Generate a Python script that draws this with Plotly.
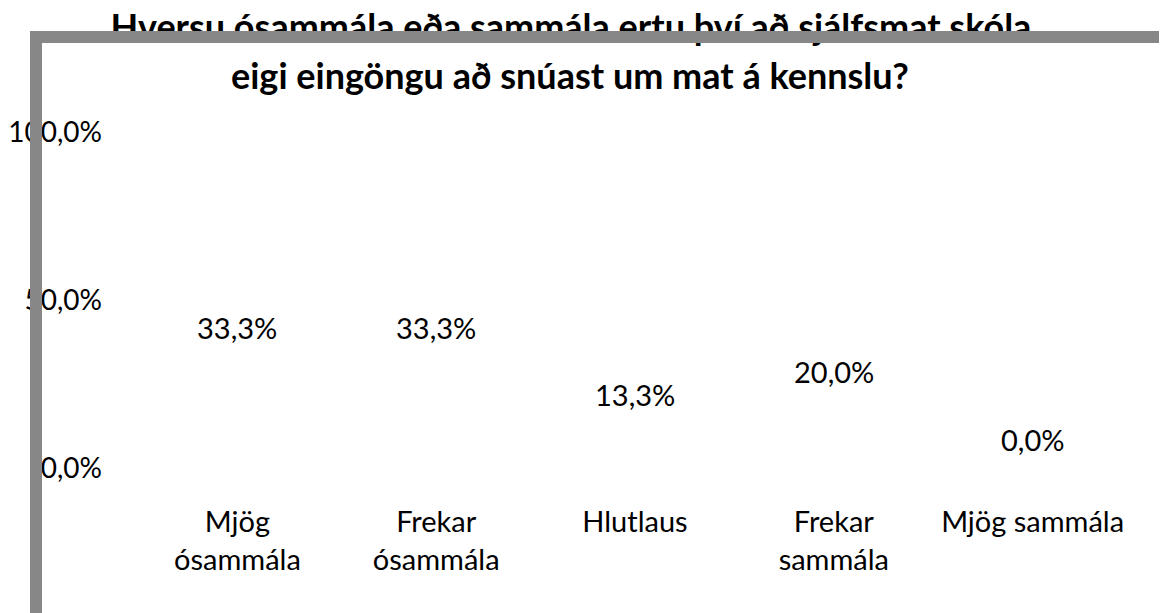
import plotly.graph_objects as go

# ---- data ----
categories = ["Mjög<br>ósammála", "Frekar<br>ósammála", "Hlutlaus", "Frekar<br>sammála", "Mjög sammála"]
values = [0.333, 0.333, 0.133, 0.200, 0.0]
y_tick_values = [0.0, 0.5, 1.0]
title_line1 = "Hversu ósammála eða sammála ertu því að sjálfsmat skóla"
title_line2 = "eigi eingöngu að snúast um mat á kennslu?"

# ---- layout constants (figure coordinates; page body adds an 8px offset) ----
W, H = 1159, 605
L, R, T, B = 129.5, 34.5, 124, 145
PW, PH = W - L - R, H - T - B
FONT = "Lato"
GRAY = "#878787"


def px_x(px):
    return (px - L) / PW


def px_y(py):
    return (H - B - py) / PH


def fmt_pct(v):
    return f"{v * 100:.1f}%".replace(".", ",")


fig = go.Figure()
fig.add_trace(go.Bar(
    x=categories, y=values,
    marker=dict(color="rgba(0,0,0,0)", line=dict(width=0)),
    hovertemplate="%{x}: %{y:.1%}<extra></extra>",
))

annotations = []
# data labels
for c, v in zip(categories, values):
    annotations.append(dict(
        x=c, y=v, xref="x", yref="y", text=fmt_pct(v), showarrow=False,
        yshift=29, yanchor="middle", xanchor="center",
        font=dict(family=FONT, size=29, color="#000"),
    ))
# second title line
annotations.append(dict(
    x=px_x(562), y=px_y(67), xref="paper", yref="paper",
    text="<b>" + title_line2 + "</b>", showarrow=False,
    xanchor="center", yanchor="middle",
    font=dict(family=FONT, size=36, color="#000"),
))
# gray chart-area frame (drawn above the first title line)
annotations.append(dict(
    x=px_x(21), y=px_y(23), xref="paper", yref="paper", text=" ",
    showarrow=False, xanchor="left", yanchor="top",
    width=W - 21, height=12, bgcolor=GRAY, borderpad=0, borderwidth=0,
))
annotations.append(dict(
    x=px_x(21), y=px_y(23), xref="paper", yref="paper", text=" ",
    showarrow=False, xanchor="left", yanchor="top",
    width=12, height=H - 23, bgcolor=GRAY, borderpad=0, borderwidth=0,
))

fig.update_layout(
    width=W, height=H, autosize=False,
    margin=dict(l=L, r=R, t=T, b=B, pad=0, autoexpand=False),
    paper_bgcolor="white", plot_bgcolor="white",
    separators=",.",
    showlegend=False,
    bargap=0.5,
    title=dict(
        text="<b>" + title_line1 + "</b>",
        x=563 / W, xanchor="center", xref="container",
        y=1 - 19 / H, yanchor="middle", yref="container",
        font=dict(family=FONT, size=36, color="#000"),
    ),
    xaxis=dict(
        type="category", showgrid=False, zeroline=False, showline=False,
        ticks="", ticklabelstandoff=34, automargin=False,
        tickfont=dict(family=FONT, size=29, color="#000"),
    ),
    yaxis=dict(
        range=[0, 1], tickvals=y_tick_values, tickformat=".1%",
        showgrid=False, zeroline=False, showline=False, ticks="",
        ticklabelstandoff=35, automargin=False,
        tickfont=dict(family=FONT, size=28, color="#000"),
    ),
    annotations=annotations,
)

fig.write_html("out.html")
